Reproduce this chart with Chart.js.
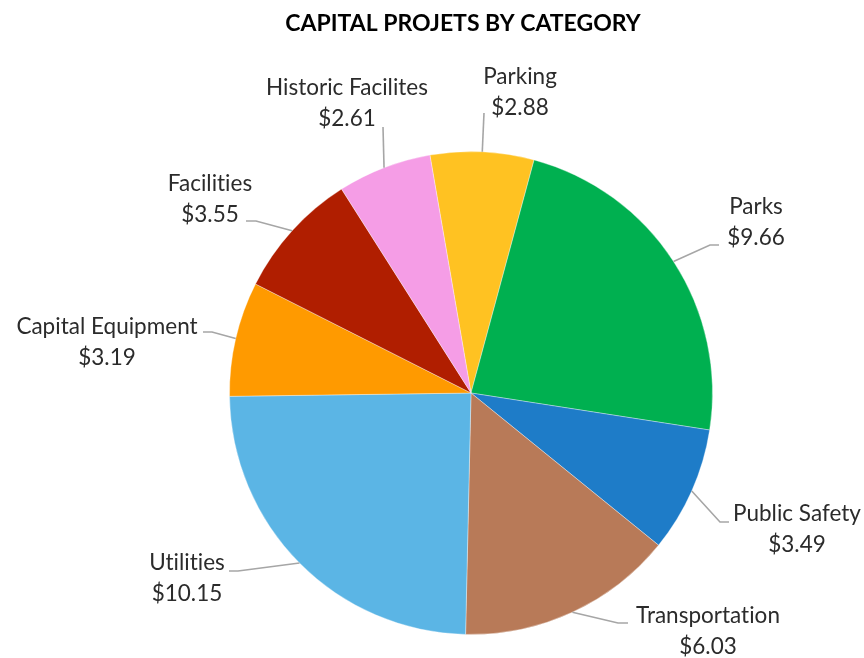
<!DOCTYPE html>
<html>
<head>
<meta charset="utf-8">
<script src="https://cdn.jsdelivr.net/npm/chart.js@4"></script>
<style>
  html, body { margin: 0; padding: 0; background: #fff; }
  #wrap { width: 864px; height: 658px; }
</style>
</head>
<body>
<div id="wrap"><canvas id="pieChart" width="864" height="658"></canvas></div>
<script>
const categories = ['Parking', 'Parks', 'Public Safety', 'Transportation', 'Utilities', 'Capital Equipment', 'Facilities', 'Historic Facilites']
const amounts = [2.88, 9.66, 3.49, 6.03, 10.15, 3.19, 3.55, 2.61]
const sliceColors = ['#FFC222', '#00B050', '#1E7CC8', '#B87A58', '#5BB5E5', '#FF9A00', '#B01E00', '#F59DE6']

// label boxes: text center, leader elbow and end (page pixels)
const labelLayout = [
  { cx: 520, cy: 77, elbow: null, end: [484, 113] },
  { cx: 756, cy: 207, elbow: [710, 245], end: [719, 245] },
  { cx: 797, cy: 514, elbow: [720, 522], end: [729, 522] },
  { cx: 708, cy: 616, elbow: [618, 623], end: [628, 623] },
  { cx: 187, cy: 563, elbow: [238, 571], end: [229, 571] },
  { cx: 107, cy: 327, elbow: [212, 332], end: [203, 332] },
  { cx: 210, cy: 184, elbow: [256, 221], end: [246, 221] },
  { cx: 347, cy: 88, elbow: null, end: [383, 127] }
]

const labelFont = '22.5px Lato, "Open Sans", sans-serif'

const calloutPlugin = {
  id: 'callouts',
  afterDraw(chart) {
    const ctx = chart.ctx
    const meta = chart.getDatasetMeta(0)
    ctx.save()
    // tiny spacing turns off the Lato "ti" ligature
    if ('letterSpacing' in ctx) ctx.letterSpacing = '0.01px'
    // title
    ctx.fillStyle = '#000'
    ctx.font = 'bold 23px Lato, "Open Sans", sans-serif'
    ctx.textAlign = 'center'
    ctx.textBaseline = 'middle'
    ctx.fillText('CAPITAL PROJETS BY CATEGORY', 463, 24)

    meta.data.forEach((arc, i) => {
      const p = arc.getProps(['x', 'y', 'startAngle', 'endAngle', 'outerRadius'], true)
      const mid = (p.startAngle + p.endAngle) / 2
      const sx = p.x + Math.cos(mid) * p.outerRadius
      const sy = p.y + Math.sin(mid) * p.outerRadius
      const lay = labelLayout[i]
      ctx.strokeStyle = '#A6A6A6'
      ctx.lineWidth = 1.6
      ctx.beginPath()
      ctx.moveTo(sx, sy)
      if (lay.elbow) ctx.lineTo(lay.elbow[0], lay.elbow[1])
      ctx.lineTo(lay.end[0], lay.end[1])
      ctx.stroke()

      ctx.fillStyle = '#2B2B2B'
      ctx.font = labelFont
      ctx.fillText(categories[i], lay.cx, lay.cy)
      ctx.fillText('$' + amounts[i].toFixed(2), lay.cx, lay.cy + 31)
    })
    ctx.restore()
  }
}

new Chart(document.getElementById('pieChart').getContext('2d'), {
  type: 'pie',
  data: {
    labels: categories,
    datasets: [{
      data: amounts,
      backgroundColor: sliceColors,
      borderColor: 'rgba(255,255,255,0.35)',
      borderWidth: 1
    }]
  },
  options: {
    responsive: false,
    animation: false,
    rotation: -9.8,
    layout: { padding: { top: 151, bottom: 23, left: 229, right: 151 } },
    plugins: {
      legend: { display: false },
      tooltip: { enabled: false },
      title: { display: false }
    }
  },
  plugins: [calloutPlugin]
})
</script>
</body>
</html>
